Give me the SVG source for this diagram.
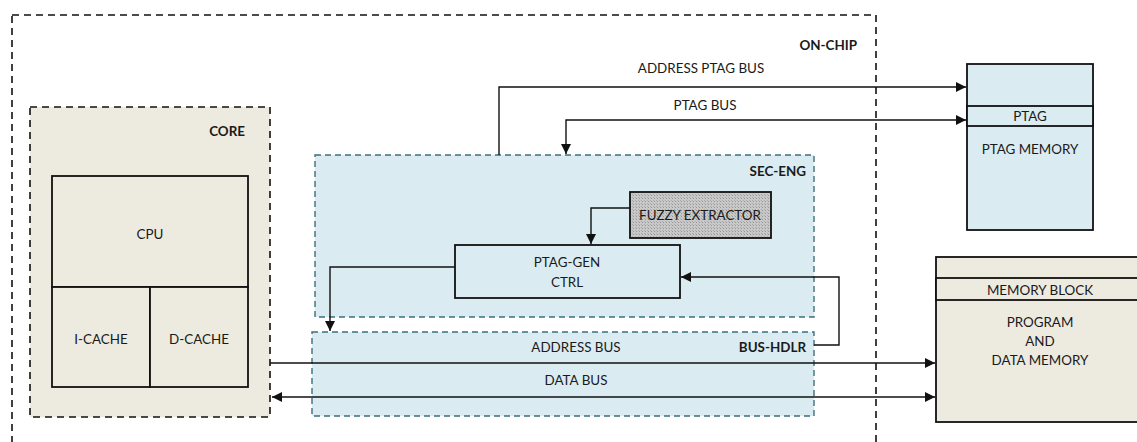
<svg xmlns="http://www.w3.org/2000/svg" width="1137" height="442" viewBox="0 0 1137 442">
  <style>
    text { font-family: Lato, "Open Sans", "Liberation Sans", sans-serif; font-size: 13.4px; fill: #1a1a1a; }
    .title { font-weight: bold; text-anchor: end; }
    .c { text-anchor: middle; }
    .blk { stroke: #111; stroke-width: 1.8; }
    .dash { fill: none; stroke: #111; stroke-width: 1.6; stroke-dasharray: 7 5; }
    .tdash { stroke: #3b6f7e; stroke-width: 1.4; stroke-dasharray: 6 4; }
    .wire { fill: none; stroke: #111; stroke-width: 1.4; }
    .beige { fill: #edeae0; }
    .blue { fill: #daecf2; }
  </style>
  <defs>
    <marker id="arr" viewBox="0 0 10 10" refX="10" refY="5" markerWidth="10" markerHeight="10" markerUnits="userSpaceOnUse" orient="auto-start-reverse">
      <path d="M0,0 L10,5 L0,10 Z" fill="#111"/>
    </marker>
    <pattern id="grain" width="3" height="3" patternUnits="userSpaceOnUse">
      <rect width="3" height="3" fill="#c8c8c8"/>
      <rect width="1" height="1" fill="#979797"/>
      <rect x="2" y="2" width="1" height="1" fill="#acacac"/>
    </pattern>
  </defs>

  <!-- on-chip boundary -->
  <g id="on-chip">
    <rect x="12" y="15" width="864" height="460" class="dash"/>
    <text x="857" y="50" class="title">ON-CHIP</text>
  </g>

  <!-- processor core -->
  <g id="core">
    <rect x="30" y="107" width="240" height="310" class="dash" style="fill:#edeae0"/>
    <text x="245" y="136" class="title">CORE</text>
  </g>
  <g id="cpu">
    <rect x="52" y="176" width="196" height="111" class="beige blk"/>
    <text x="150" y="239" class="c">CPU</text>
  </g>
  <g id="i-cache">
    <rect x="52" y="287" width="98" height="100" class="beige blk"/>
    <text x="101" y="344" class="c">I-CACHE</text>
  </g>
  <g id="d-cache">
    <rect x="150" y="287" width="98" height="100" class="beige blk"/>
    <text x="199" y="344" class="c">D-CACHE</text>
  </g>

  <!-- security engine -->
  <g id="sec-eng">
    <rect x="315" y="155" width="499" height="162" class="blue tdash"/>
    <text x="806" y="176" class="title">SEC-ENG</text>
  </g>
  <g id="fuzzy-extractor">
    <rect x="630" y="192" width="141" height="46" fill="url(#grain)" class="blk"/>
    <text x="700" y="220" class="c">FUZZY EXTRACTOR</text>
  </g>
  <g id="ptag-gen">
    <rect x="455" y="245" width="225" height="53" class="blue blk"/>
    <text x="567" y="267" class="c">PTAG-GEN</text>
    <text x="567" y="287" class="c">CTRL</text>
  </g>

  <!-- bus handler -->
  <g id="bus-hdlr">
    <rect x="312" y="332" width="502" height="84" class="blue tdash"/>
    <text x="806" y="352" class="title">BUS-HDLR</text>
    <text x="576" y="352" class="c">ADDRESS BUS</text>
    <text x="576" y="385" class="c">DATA BUS</text>
  </g>

  <!-- off-chip memories -->
  <g id="ptag-memory">
    <rect x="967" y="64" width="126" height="166" class="blue blk"/>
    <rect x="967" y="106" width="126" height="20" class="blue blk"/>
    <text x="1030" y="121" class="c">PTAG</text>
    <text x="1030" y="154" class="c">PTAG MEMORY</text>
  </g>
  <g id="memory-block">
    <rect x="936" y="257" width="215" height="165" class="beige blk"/>
    <rect x="936" y="278" width="215" height="22" class="beige blk"/>
    <text x="1040" y="295" class="c">MEMORY BLOCK</text>
    <text x="1040" y="327" class="c">PROGRAM</text>
    <text x="1040" y="346" class="c">AND</text>
    <text x="1040" y="365" class="c">DATA MEMORY</text>
  </g>

  <!-- connectors -->
  <g id="connectors">
    <polyline points="499,155 499,87 966,87" class="wire" marker-end="url(#arr)"/>
    <text x="701" y="73" class="c">ADDRESS PTAG BUS</text>
    <polyline points="966,120 566,120 566,154" class="wire" marker-start="url(#arr)" marker-end="url(#arr)"/>
    <text x="705" y="110" class="c">PTAG BUS</text>
    <polyline points="630,208 591,208 591,244" class="wire" marker-end="url(#arr)"/>
    <polyline points="455,267 330,267 330,331" class="wire" marker-end="url(#arr)"/>
    <polyline points="814,345 839,345 839,277 681,277" class="wire" marker-end="url(#arr)"/>
    <line x1="270" y1="363" x2="935" y2="363" class="wire" marker-end="url(#arr)"/>
    <line x1="272" y1="397" x2="935" y2="397" class="wire" marker-start="url(#arr)" marker-end="url(#arr)"/>
  </g>
</svg>
